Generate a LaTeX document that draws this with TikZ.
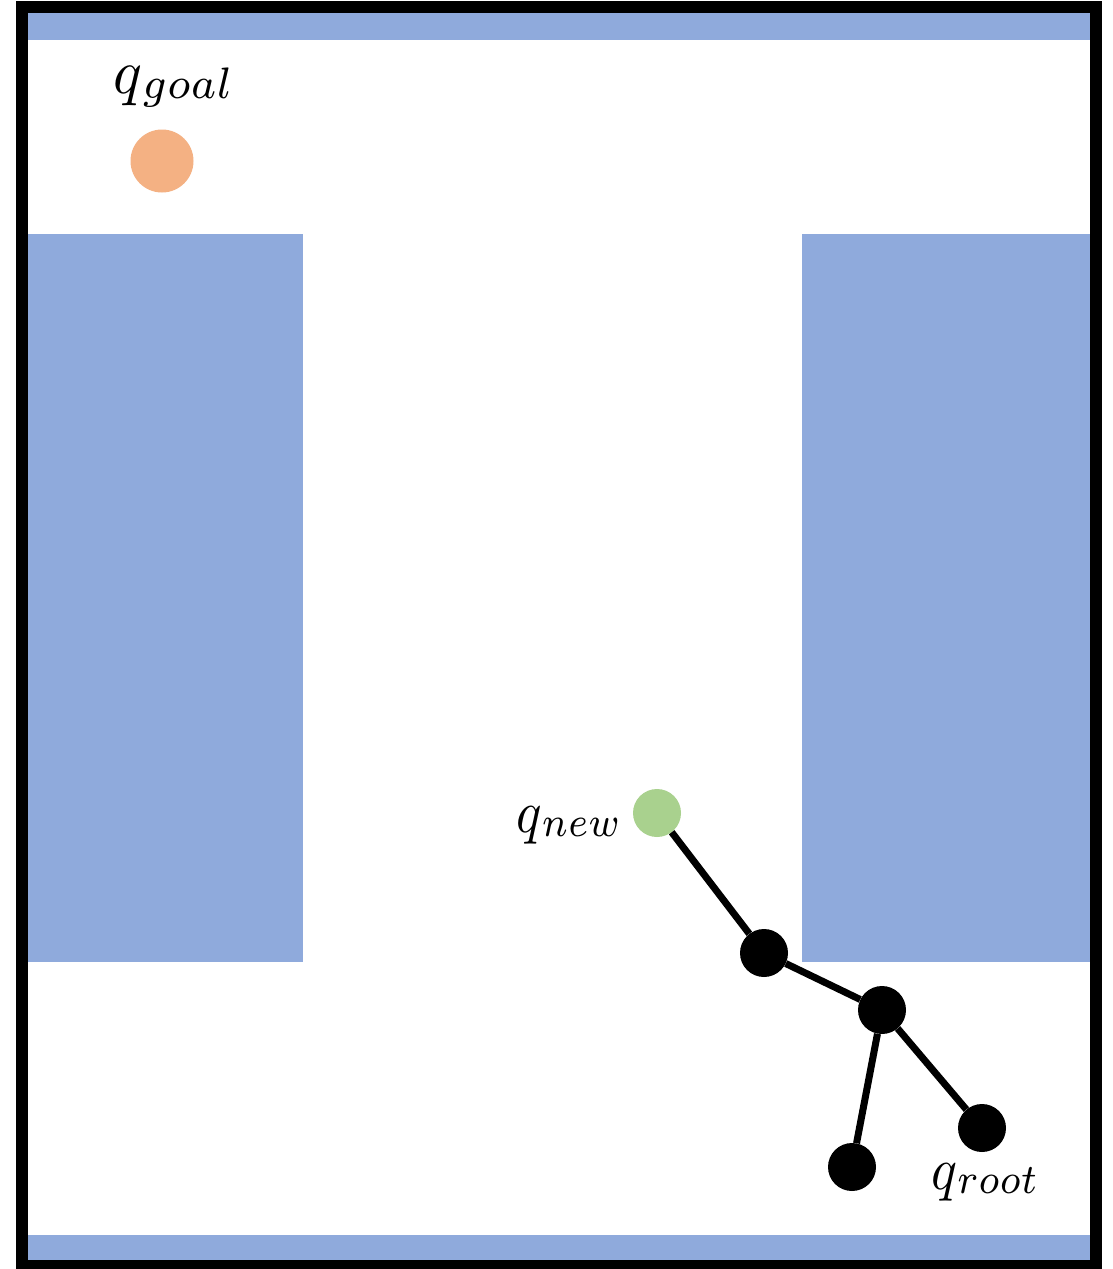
\documentclass[tikz,border=0pt]{standalone}
\begin{document}
\begin{tikzpicture}[x=1pt,y=-1pt,
  wall/.style={fill=wallblue,draw=none},
  treenode/.style={circle,fill=black,draw=none,minimum size=48pt,inner sep=0pt},
  edge/.style={line width=7pt},
  lbl/.style={inner sep=0pt}]
\definecolor{wallblue}{HTML}{8FAADC}
\definecolor{goalorange}{HTML}{F4B183}
\definecolor{newgreen}{HTML}{A9D18E}
\useasboundingbox (0,0) rectangle (1112,1269);
\fill[white] (0,0) rectangle (1112,1269);
% walls
\path[wall] (28,13) rectangle (1090,40);
\path[wall] (28,1235) rectangle (1090,1262);
\path[wall] (28,234) rectangle (303,962);
\path[wall] (802,234) rectangle (1090,962);
% border
\draw[line width=12pt] (22,7) rectangle (1096,1265.5);
% goal
\node[circle,fill=goalorange,minimum size=63pt,inner sep=0pt] (goal) at (162,161) {};
\node[lbl,xscale=6.0,yscale=6.3,anchor=base west] (goallbl) at (112,93) {$q\raisebox{-0.8pt}{$\scriptstyle goal$}$};
% tree
\node[circle,fill=newgreen,minimum size=48pt,inner sep=0pt] (qnew) at (657,813) {};
\node[lbl,xscale=5.3,yscale=6.0,anchor=base east] (newlbl) at (621,832) {$q\raisebox{-0.8pt}{$\scriptstyle new$}$};
\node[treenode] (a) at (764,953) {};
\node[treenode] (b) at (882,1010) {};
\node[treenode] (root) at (982,1128) {};
\node[treenode] (c) at (852,1167) {};
\node[lbl,xscale=5.4,yscale=6.0,anchor=base west] (rootlbl) at (930,1189) {$q\raisebox{-0.8pt}{$\scriptstyle root$}$};
\draw[edge] (qnew) -- (a);
\draw[edge] (a) -- (b);
\draw[edge] (b) -- (root);
\draw[edge] (b) -- (c);
\end{tikzpicture}
\end{document}
